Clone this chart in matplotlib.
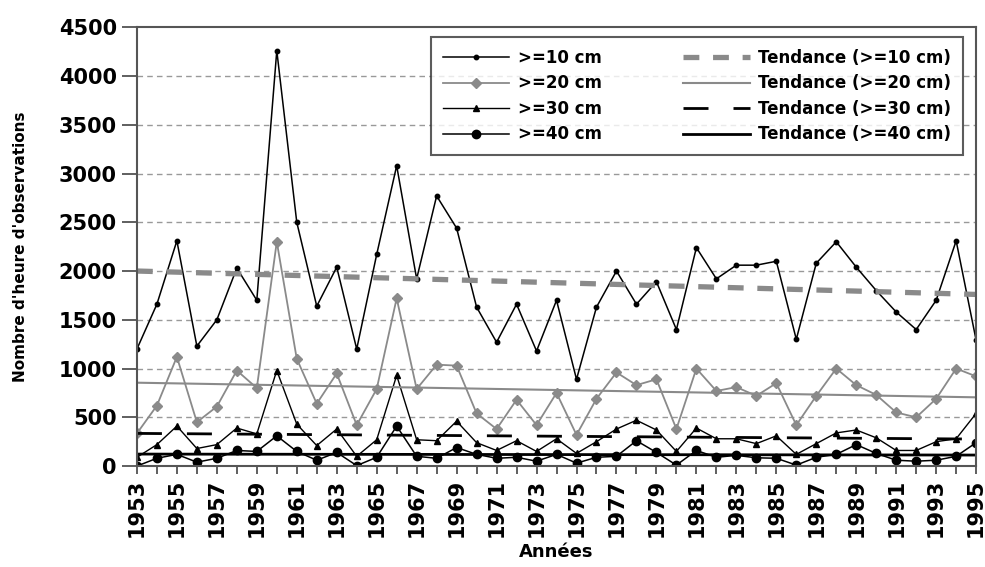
import matplotlib
matplotlib.use('Agg')
import matplotlib.pyplot as plt
import numpy as np

plt.rcParams['font.family'] = 'DejaVu Sans'
plt.rcParams['font.weight'] = 'bold'

years = list(range(1953, 1996))

cm10 = [1200, 1660, 2310, 1230, 1500, 2030, 1700, 4260, 2500, 1640,
        2040, 1200, 2170, 3080, 1920, 2770, 2440, 1630, 1270, 1660,
        1180, 1700, 890, 1630, 2000, 1660, 1890, 1400, 2240, 1920,
        2060, 2060, 2100, 1300, 2080, 2300, 2040, 1800, 1580, 1400,
        1700, 2310, 1290]
cm20 = [335, 620, 1120, 450, 610, 980, 800, 2300, 1100, 640,
        950, 420, 790, 1720, 790, 1040, 1030, 540, 380, 680,
        420, 750, 320, 690, 960, 830, 890, 380, 1000, 770,
        810, 720, 850, 420, 720, 1000, 830, 730, 550, 500,
        690, 1000, 920]
cm30 = [90, 220, 410, 180, 220, 390, 330, 980, 430, 210,
        380, 100, 270, 930, 270, 260, 460, 240, 160, 260,
        150, 280, 130, 250, 380, 470, 370, 150, 390, 280,
        280, 230, 310, 120, 230, 340, 370, 290, 160, 160,
        250, 280, 540]
cm40 = [0, 80, 120, 40, 80, 160, 150, 310, 150, 60,
        140, 5, 90, 410, 100, 80, 190, 120, 80, 90,
        50, 120, 30, 90, 100, 260, 140, 10, 160, 90,
        110, 85, 80, 10, 90, 120, 220, 130, 60, 50,
        60, 100, 240]

# trend lines: values at 1953 and 1995
trend_years = [1953, 1995]
trend10 = [2000, 1760]
trend20 = [855, 705]
trend30 = [335, 277]
trend40 = [123, 113]

fig = plt.figure(figsize=(9.85, 5.67), dpi=100)
ax = fig.add_axes([0.139, 0.178, 0.852, 0.774])

gray = '#8a8a8a'
ax.plot(years, cm10, '-', color='black', lw=1.1, marker='o', ms=3.2, label='>=10 cm')
ax.plot(years, cm20, '-', color=gray, lw=1.3, marker='D', ms=5.5, label='>=20 cm')
ax.plot(years, cm30, '-', color='black', lw=1.0, marker='^', ms=4, label='>=30 cm')
ax.plot(years, cm40, '-', color='black', lw=1.1, marker='o', ms=6, label='>=40 cm')

ax.plot(trend_years, trend10, color=gray, lw=3.8, dashes=(3, 2.6), label='Tendance (>=10 cm)')
ax.plot(trend_years, trend20, color=gray, lw=1.5, label='Tendance (>=20 cm)')
ax.plot(trend_years, trend30, color='black', lw=2, dashes=(9, 9), label='Tendance (>=30 cm)')
ax.plot(trend_years, trend40, color='black', lw=2, label='Tendance (>=40 cm)')

ax.set_xlim(1953, 1995)
ax.set_ylim(0, 4500)
ax.set_yticks(np.arange(0, 4501, 500))
ax.set_xticks(years)
ax.set_xticklabels([str(y) if (y - 1953) % 2 == 0 else '' for y in years],
                   rotation=90, fontsize=15, fontweight='bold')
ax.tick_params(axis='y', labelsize=15, direction='out', length=11, width=1.2, color='#444')
ax.tick_params(axis='x', direction='out', length=6, width=1.2, color='#444', pad=3)
for lbl in ax.get_yticklabels():
    lbl.set_fontweight('bold')

for y in range(500, 4500, 500):
    ax.axhline(y, color='#999999', lw=1, dashes=(4, 3), zorder=0)

for s in ax.spines.values():
    s.set_color('#555555')
    s.set_linewidth(1.5)

ax.set_ylabel("Nombre d'heure d'observations", fontsize=11, fontweight='bold', labelpad=22)
ax.set_xlabel('Années', fontsize=13, fontweight='bold', labelpad=4)

leg = ax.legend(loc='upper right', bbox_to_anchor=(0.9845, 0.977), ncol=2, fontsize=12,
                frameon=True, fancybox=False, edgecolor='#333333', handlelength=4.0,
                handletextpad=0.5, columnspacing=4.9, labelspacing=0.45,
                borderpad=0.7, borderaxespad=0)
leg.get_frame().set_linewidth(1.5)

fig.savefig('out.png', dpi=100)
